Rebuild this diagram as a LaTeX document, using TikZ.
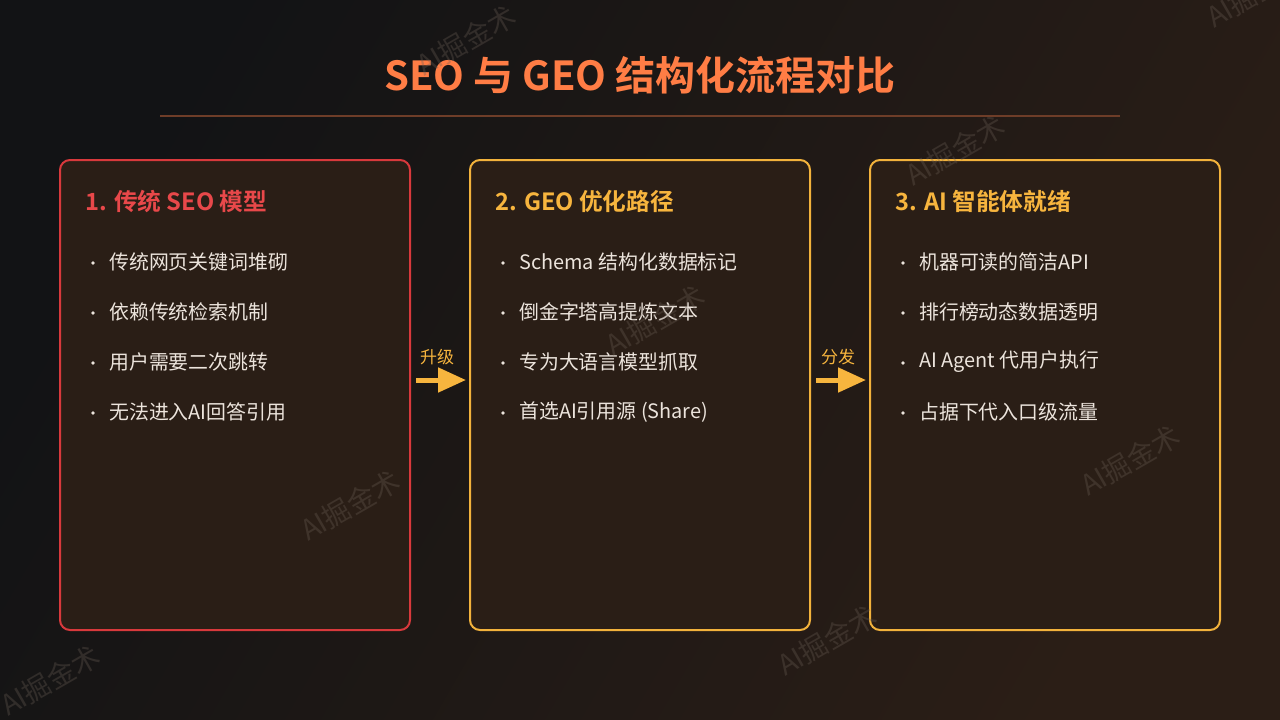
\documentclass[tikz,border=0pt]{standalone}
\usepackage{fontspec}
\setmainfont{Noto Sans CJK SC}
\newfontfamily\cjkbold{Noto Sans CJK SC Bold}
\usetikzlibrary{arrows.meta}
\definecolor{bgL}{HTML}{121315}
\definecolor{bgR}{HTML}{2B1E16}
\definecolor{boxfill}{HTML}{2A1E16}
\definecolor{titlec}{HTML}{FF7D45}
\definecolor{rulec}{HTML}{6E3D28}
\definecolor{redc}{HTML}{D8393C}
\definecolor{redt}{HTML}{E8484A}
\definecolor{goldc}{HTML}{F2B23C}
\definecolor{goldt}{HTML}{F7B53E}
\definecolor{itemc}{HTML}{ECE4DC}
\definecolor{wmc}{HTML}{6A5E55}
\tikzset{
  x=1pt,y=-1pt,
  panel/.style={draw=#1, line width=2pt, rounded corners=10pt, fill=boxfill},
  headtxt/.style={anchor=west, text=#1, font=\cjkbold\fontsize{23.7}{28}\selectfont, inner sep=0pt},
  itemtxt/.style={anchor=west, text=itemc, font=\fontsize{19.9}{24}\selectfont, inner sep=0pt},
  bul/.style={circle, fill=itemc, inner sep=0pt, minimum size=3.6pt},
  steplabel/.style={text=goldt, font=\fontsize{17}{20}\selectfont, inner sep=0pt},
  flowarrow/.style={draw=goldt, line width=5pt, -{Triangle[length=28pt,width=24pt]}},
  watermark/.style={text=wmc, opacity=0.33, rotate=30, font=\fontsize{28}{32}\selectfont, inner sep=0pt}
}
\begin{document}
\begin{tikzpicture}
\useasboundingbox (0,0) rectangle (1280,720);
\shade[left color=bgL, right color=bgR, shading angle=60] (0,0) rectangle (1280,720);

% title
\node[text=titlec, font=\cjkbold\fontsize{40}{46}\selectfont, inner sep=0pt] (title) at (640,75) {SEO 与 GEO 结构化流程对比};
\coordinate (ruleL) at (160,116);
\coordinate (ruleR) at (1120,116);
\draw[rulec, line width=1.5pt] (ruleL) -- (ruleR);

% panels
\draw[panel=redc] (60,160) rectangle (410,630);
\draw[panel=goldc] (470,160) rectangle (810,630);
\draw[panel=goldc] (870,160) rectangle (1220,630);

% headers
\node[headtxt=redt] (h1) at (85,201) {1. 传统 SEO 模型};
\node[headtxt=goldt] (h2) at (495,201) {2. GEO 优化路径};
\node[headtxt=goldt] (h3) at (895,201) {3. AI 智能体就绪};

% items panel 1
\node[bul] (b11) at (93,263) {}; \node[itemtxt] (t11) at (109,262) {传统网页关键词堆砌};
\node[bul] (b12) at (93,313) {}; \node[itemtxt] (t12) at (109,312) {依赖传统检索机制};
\node[bul] (b13) at (93,363) {}; \node[itemtxt] (t13) at (109,362) {用户需要二次跳转};
\node[bul] (b14) at (93,413) {}; \node[itemtxt] (t14) at (109,412) {无法进入AI回答引用};
% items panel 2
\node[bul] (b21) at (503,263) {}; \node[itemtxt] (t21) at (519,262) {Schema 结构化数据标记};
\node[bul] (b22) at (503,313) {}; \node[itemtxt] (t22) at (519,312) {倒金字塔高提炼文本};
\node[bul] (b23) at (503,363) {}; \node[itemtxt] (t23) at (519,362) {专为大语言模型抓取};
\node[bul] (b24) at (503,413) {}; \node[itemtxt] (t24) at (519,412) {首选AI引用源 (Share)};
% items panel 3
\node[bul] (b31) at (903,263) {}; \node[itemtxt] (t31) at (919,262) {机器可读的简洁API};
\node[bul] (b32) at (903,313) {}; \node[itemtxt] (t32) at (919,312) {排行榜动态数据透明};
\node[bul] (b33) at (903,363) {}; \node[itemtxt] (t33) at (919,362) {AI Agent 代用户执行};
\node[bul] (b34) at (903,413) {}; \node[itemtxt] (t34) at (919,412) {占据下代入口级流量};

% arrows
\node[steplabel] (l1) at (437,357) {升级};
\node[steplabel] (l2) at (838,357) {分发};
\coordinate (a1s) at (416,380); \coordinate (a1e) at (466,380);
\coordinate (a2s) at (816,380); \coordinate (a2e) at (866,380);
\draw[flowarrow] (a1s) -- (a1e);
\draw[flowarrow] (a2s) -- (a2e);

% watermarks
\node[watermark] (w1) at (466,40) {AI掘金术};
\node[watermark] (w2) at (955,150) {AI掘金术};
\node[watermark] (w3) at (350,505) {AI掘金术};
\node[watermark] (w4) at (655,320) {AI掘金术};
\node[watermark] (w5) at (1130,460) {AI掘金术};
\node[watermark] (w6) at (827,640) {AI掘金术};
\node[watermark] (w7) at (50,680) {AI掘金术};
\node[watermark] (w8) at (1256,-8) {AI掘金术};
\end{tikzpicture}
\end{document}
